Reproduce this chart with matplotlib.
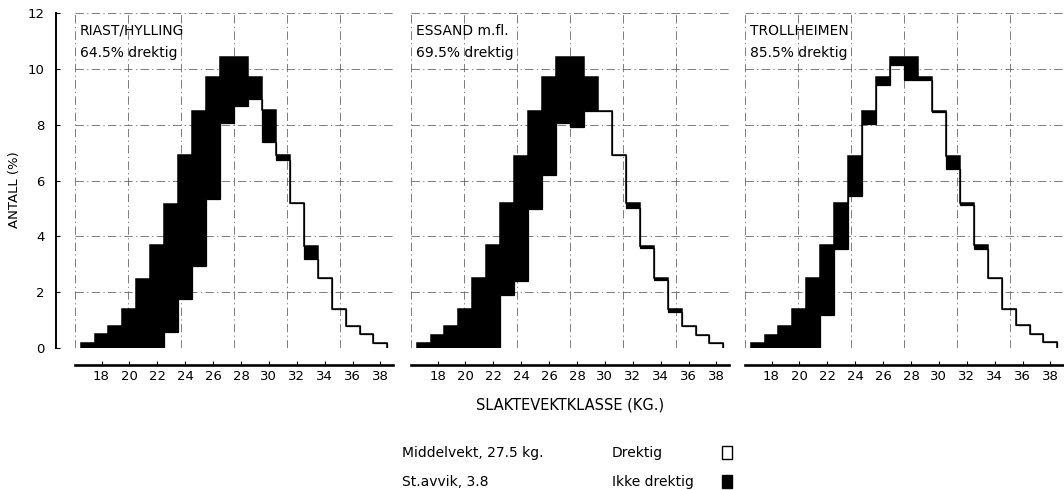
import numpy as np
import matplotlib
matplotlib.use("Agg")
import matplotlib.pyplot as plt
from matplotlib.patches import Rectangle

# Vektklasser (kg), en klasse per kilo
klasser = np.arange(17, 39)
kanter = np.arange(16.5, 39.5, 1.0)

omraader = ["RIAST/HYLLING", "ESSAND m.fl.", "TROLLHEIMEN"]
andel_drektig = ["64.5% drektig", "69.5% drektig", "85.5% drektig"]

# Totalt antall (%) per klasse
totalt_riast = [0.19, 0.49, 0.79, 1.39, 2.47, 3.69, 5.17, 6.91, 8.49, 9.72, 10.42,
                10.42, 9.70, 8.53, 6.91, 5.19, 3.67, 2.49, 1.39, 0.79, 0.49, 0.19]
totalt_essand = [0.18, 0.48, 0.78, 1.38, 2.49, 3.68, 5.18, 6.89, 8.50, 9.71, 10.42,
                 10.42, 9.71, 8.50, 6.90, 5.18, 3.66, 2.50, 1.39, 0.78, 0.48, 0.18]
totalt_troll = [0.18, 0.48, 0.80, 1.38, 2.50, 3.69, 5.21, 6.89, 8.50, 9.71, 10.42,
                10.42, 9.71, 8.50, 6.89, 5.21, 3.68, 2.50, 1.41, 0.82, 0.49, 0.20]

# Drektige dyr (%) per klasse
drektig_riast = [0, 0, 0, 0, 0, 0, 0.58, 1.75, 2.95, 5.35, 8.07,
                 8.67, 8.91, 7.39, 6.73, 5.19, 3.19, 2.49, 1.39, 0.79, 0.49, 0.19]
drektig_essand = [0, 0, 0, 0, 0, 0, 1.90, 2.40, 4.99, 6.21, 8.07,
                  7.93, 8.50, 8.50, 6.90, 5.00, 3.60, 2.43, 1.30, 0.78, 0.48, 0.18]
drektig_troll = [0, 0, 0, 0, 0, 1.18, 3.54, 5.43, 8.02, 9.41, 10.14,
                 9.60, 9.60, 8.45, 6.41, 5.12, 3.54, 2.50, 1.41, 0.82, 0.49, 0.20]

totalt = [totalt_riast, totalt_essand, totalt_troll]
drektig = [drektig_riast, drektig_essand, drektig_troll]

middel = 27.5
stavvik = 3.8
xticks = np.arange(18, 39, 2)
yticks = np.arange(0, 13, 2)

plt.rcParams['font.family'] = ['DejaVu Sans']
plt.rcParams['font.size'] = 10

W, H = 1064, 490
fig = plt.figure(figsize=(W / 100, H / 100), dpi=100)

grid_style = dict(color='#666666', lw=0.6, ls=(0, (10, 4, 1.5, 4)), zorder=1)

# Rutenett: vertikalt ved middel +/- k * st.avvik
vlinjer = [middel + k * stavvik for k in range(-3, 4)]

venstre = [75, 411, 745]
for i in range(3):
    ax = fig.add_axes([venstre[i] / W, (H - 348) / H, 318 / W, 335 / H])
    ax.set_xlim(vlinjer[0], vlinjer[-1])
    ax.set_ylim(0, 12)

    for v in vlinjer:
        ax.axvline(v, **grid_style)
    for y in yticks:
        ax.axhline(y, **grid_style)

    # svart felt = ikke drektig, hvitt under = drektig
    ax.stairs(totalt[i], kanter, baseline=drektig[i], fill=True,
              color='black', zorder=3)
    ax.stairs(totalt[i], kanter, color='black', lw=1.1, zorder=4)
    ax.stairs(drektig[i], kanter, color='black', lw=0.9, zorder=4)

    ax.text(16.45, 11.37, omraader[i], fontsize=10, va='center', ha='left', zorder=5)
    ax.text(16.45, 10.58, andel_drektig[i], fontsize=10, va='center', ha='left', zorder=5)

    for s in ['top', 'right', 'left']:
        ax.spines[s].set_visible(False)
    ax.spines['bottom'].set_position(('outward', 12))
    ax.spines['bottom'].set_linewidth(1.9)
    ax.set_xticks(xticks)
    ax.tick_params(axis='x', direction='in', length=3, width=0.8, pad=4, labelsize=9.5)

    if i == 0:
        ax.spines['left'].set_visible(True)
        ax.spines['left'].set_position(('outward', 14))
        ax.spines['left'].set_linewidth(1.4)
        ax.set_yticks(yticks)
        ax.tick_params(axis='y', direction='in', length=3, width=0.8, pad=8, labelsize=9.5)
    else:
        ax.set_yticks([])

fig.text(570 / W, 1 - 405 / H, "SLAKTEVEKTKLASSE (KG.)", ha='center', va='center', fontsize=10.5)
fig.text(15 / W, 1 - 190 / H, "ANTALL (%)", rotation=90, ha='center', va='center', fontsize=9.5)

# Forklaring nederst
fig.text(402 / W, 1 - 453 / H, "Middelvekt, 27.5 kg.", ha='left', va='center')
fig.text(402 / W, 1 - 482 / H, "St.avvik, 3.8", ha='left', va='center')
fig.text(612 / W, 1 - 453 / H, "Drektig", ha='left', va='center')
fig.text(612 / W, 1 - 482 / H, "Ikke drektig", ha='left', va='center')
fig.patches.append(Rectangle((722 / W, 1 - 459 / H), 10 / W, 13 / H, transform=fig.transFigure,
                             facecolor='white', edgecolor='black', lw=1.0))
fig.patches.append(Rectangle((722 / W, 1 - 488 / H), 10 / W, 13 / H, transform=fig.transFigure,
                             facecolor='black', edgecolor='black', lw=1.0))

fig.savefig("out.png", dpi=100)
